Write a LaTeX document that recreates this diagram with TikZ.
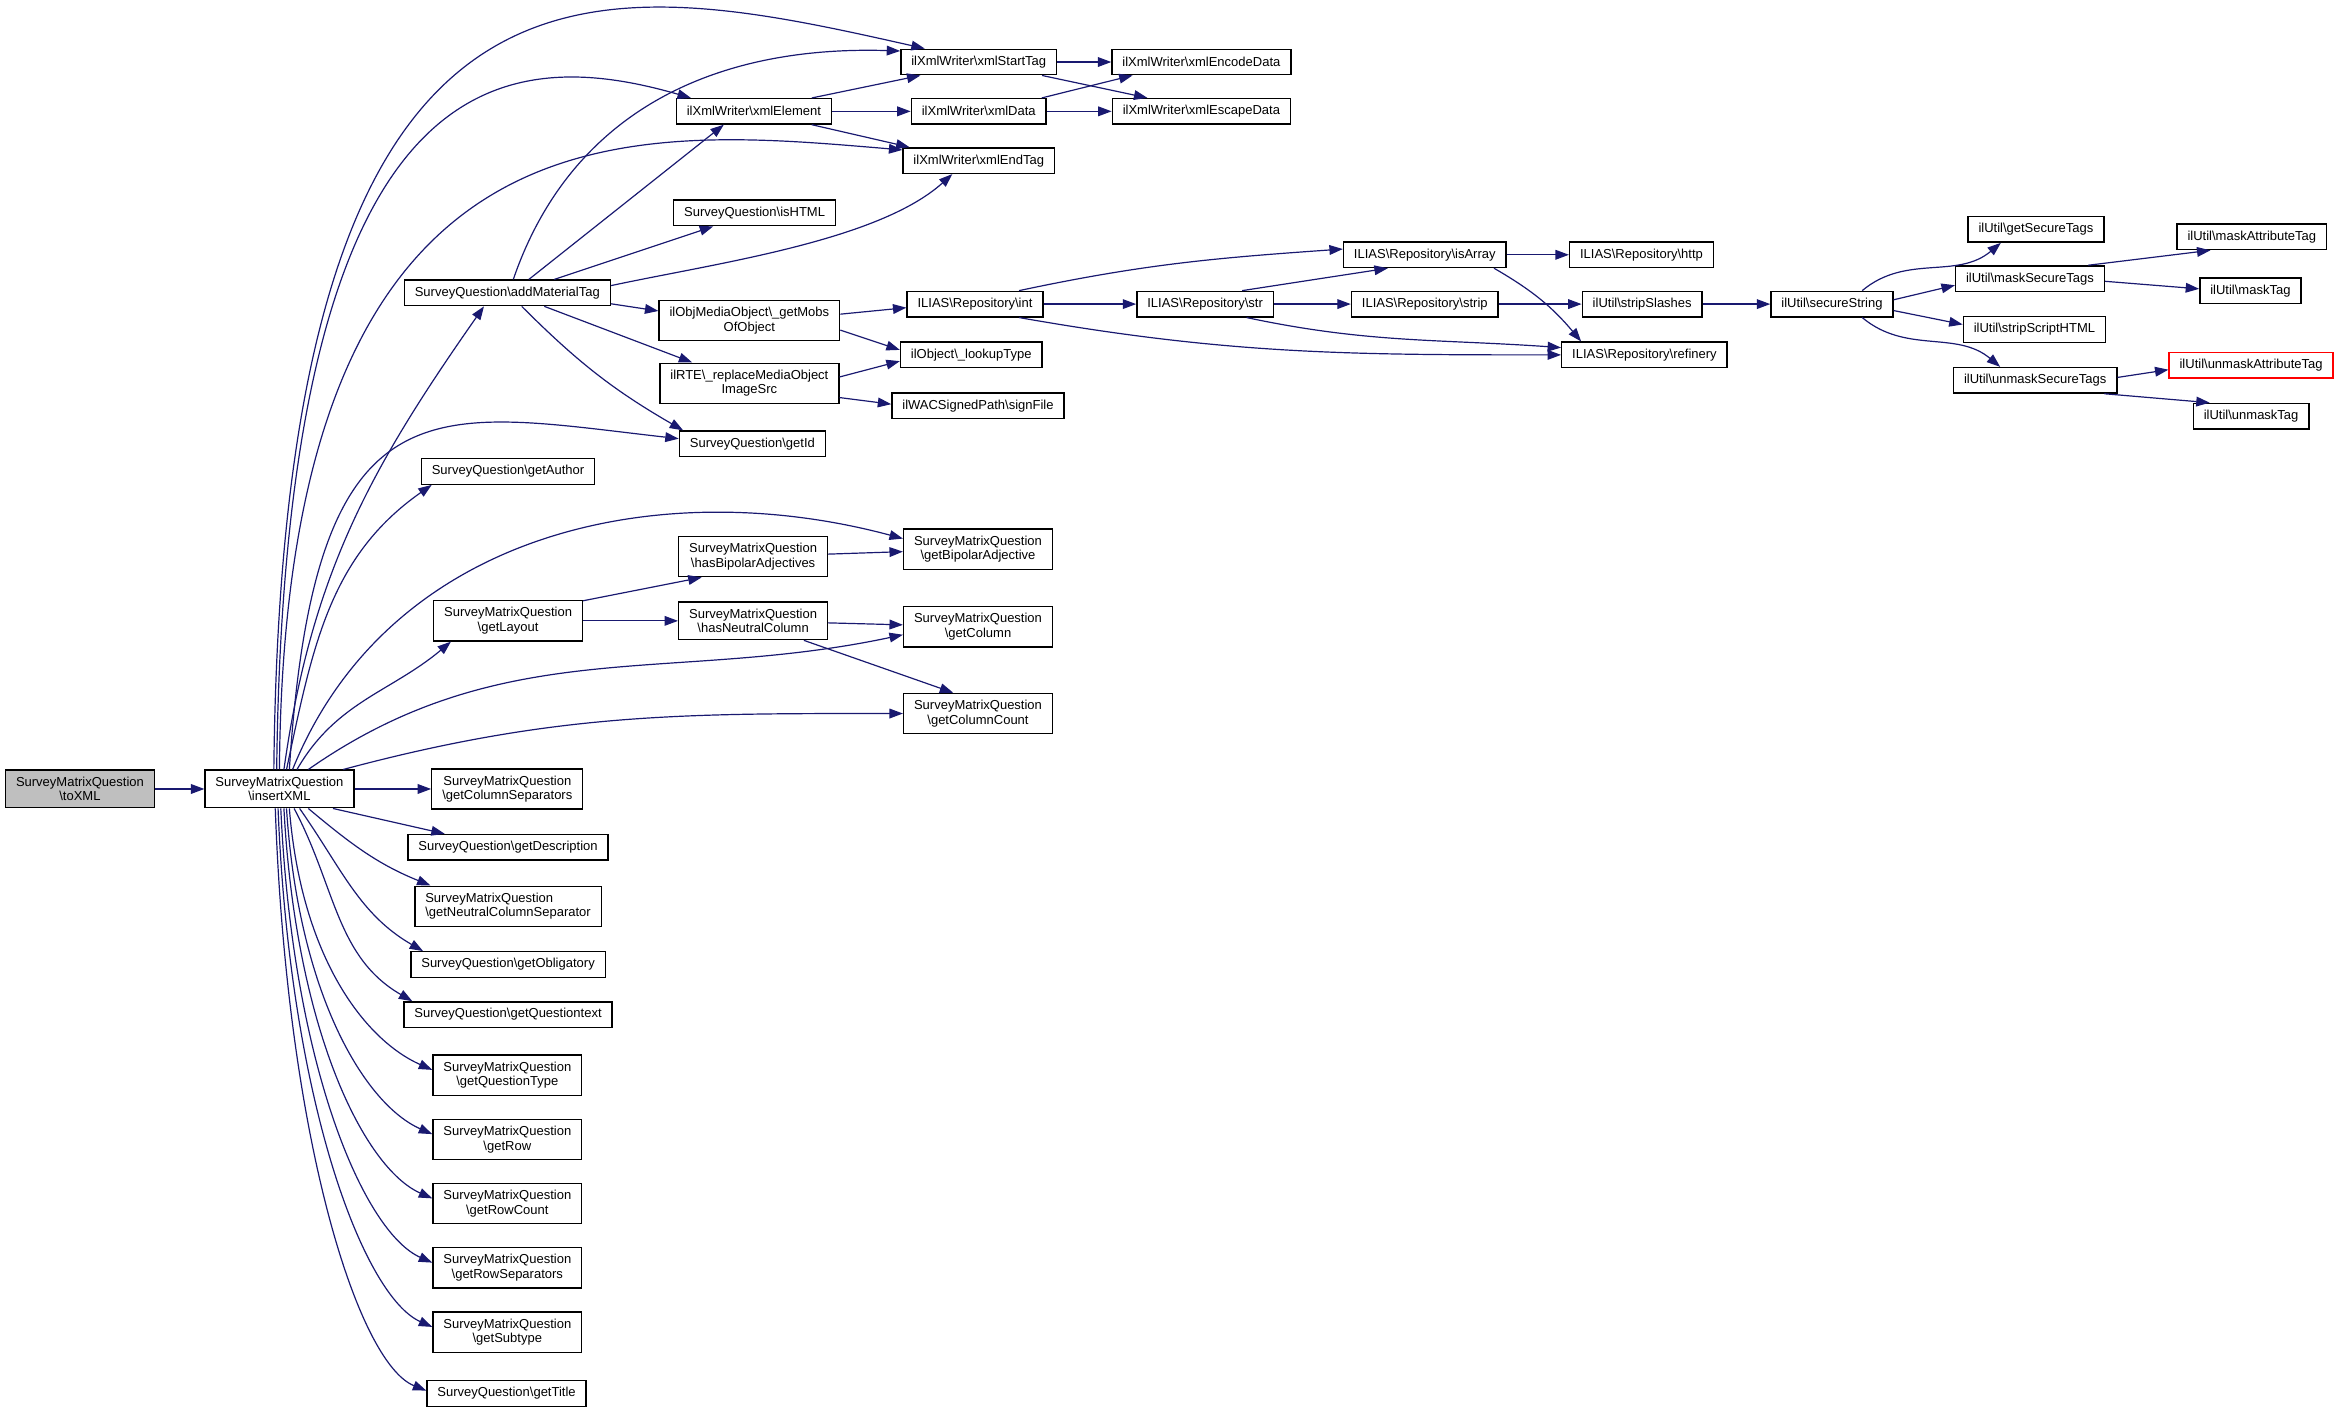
\documentclass[tikz,border=0pt]{standalone}
\usepackage{fontspec}
\setmainfont{Liberation Sans}
\usetikzlibrary{arrows.meta}
\definecolor{callblue}{HTML}{191970}
\definecolor{rootgray}{HTML}{BFBFBF}
\newcommand{\bsl}{\textbackslash}
\tikzset{
	fn/.style={rectangle,draw,line width=0.9pt,inner xsep=7pt,inner ysep=4.5pt,minimum height=17pt,align=center,font=\fontsize{8.7}{9.8}\selectfont},
	gfn/.style={fn,fill=rootgray},
	rfn/.style={fn,draw=red},
	call/.style={draw=callblue,line width=0.8pt,-{Triangle[length=9pt,width=6.5pt]}}
}

\begin{document}
\begin{tikzpicture}[x=1pt,y=1pt]
\useasboundingbox (0,0) rectangle (1568,-945.6);

\node [gfn] (toXML) at (53.5,-528) {SurveyMatrixQuestion\\\bsl toXML};
\node [fn] (insertXML) at (187,-528) {SurveyMatrixQuestion\\\bsl insertXML};

\node [fn] (xmlStartTag) at (655,-41.5) {ilXmlWriter\bsl xmlStartTag};
\node [fn] (xmlEncodeData) at (804,-41.5) {ilXmlWriter\bsl xmlEncodeData};
\node [fn] (xmlElement) at (504.5,-74.5) {ilXmlWriter\bsl xmlElement};
\node [fn] (xmlData) at (655,-74.5) {ilXmlWriter\bsl xmlData};
\node [fn] (xmlEscapeData) at (804,-74.5) {ilXmlWriter\bsl xmlEscapeData};
\node [fn] (xmlEndTag) at (655,-107.5) {ilXmlWriter\bsl xmlEndTag};
\node [fn] (isHTML) at (505,-142.5) {SurveyQuestion\bsl isHTML};
\node [fn] (addMaterialTag) at (339.5,-196) {SurveyQuestion\bsl addMaterialTag};
\node [fn] (getMobsOfObject) at (501.5,-214.5) {ilObjMediaObject\bsl\_getMobs\\OfObject};
\node [fn] (lookupType) at (650,-237.5) {ilObject\bsl\_lookupType};
\node [fn] (replaceMediaObject) at (501.5,-256.5) {ilRTE\bsl\_replaceMediaObject\\ImageSrc};
\node [fn] (signFile) at (654.5,-271.5) {ilWACSignedPath\bsl signFile};
\node [fn] (getId) at (503.5,-297) {SurveyQuestion\bsl getId};

\node [fn] (int) at (652.5,-203.5) {ILIAS\bsl Repository\bsl int};
\node [fn] (str) at (806.5,-203.5) {ILIAS\bsl Repository\bsl str};
\node [fn] (isArray) at (953.5,-170.5) {ILIAS\bsl Repository\bsl isArray};
\node [fn] (http) at (1098.5,-170.5) {ILIAS\bsl Repository\bsl http};
\node [fn] (strip) at (953.5,-203.5) {ILIAS\bsl Repository\bsl strip};
\node [fn] (stripSlashes) at (1099,-203.5) {ilUtil\bsl stripSlashes};
\node [fn] (refinery) at (1100.5,-237.5) {ILIAS\bsl Repository\bsl refinery};
\node [fn] (secureString) at (1226,-203.5) {ilUtil\bsl secureString};
\node [fn] (getSecureTags) at (1362.5,-153.5) {ilUtil\bsl getSecureTags};
\node [fn] (maskSecureTags) at (1358.5,-186.5) {ilUtil\bsl maskSecureTags};
\node [fn] (stripScriptHTML) at (1361.5,-220.5) {ilUtil\bsl stripScriptHTML};
\node [fn] (unmaskSecureTags) at (1362,-254.5) {ilUtil\bsl unmaskSecureTags};
\node [fn] (maskAttributeTag) at (1507,-158.5) {ilUtil\bsl maskAttributeTag};
\node [fn] (maskTag) at (1506,-194.5) {ilUtil\bsl maskTag};
\node [rfn] (unmaskAttributeTag) at (1506.5,-244.5) {ilUtil\bsl unmaskAttributeTag};
\node [fn] (unmaskTag) at (1506.5,-278.5) {ilUtil\bsl unmaskTag};

\node [fn] (getAuthor) at (340,-315.5) {SurveyQuestion\bsl getAuthor};
\node [fn] (getBipolarAdjective) at (654.5,-367.5) {SurveyMatrixQuestion\\\bsl getBipolarAdjective};
\node [fn] (hasBipolarAdjectives) at (504,-372.5) {SurveyMatrixQuestion\\\bsl hasBipolarAdjectives};
\node [fn] (getLayout) at (340,-415.5) {SurveyMatrixQuestion\\\bsl getLayout};
\node [fn] (hasNeutralColumn) at (504,-415.5) {SurveyMatrixQuestion\\\bsl hasNeutralColumn};
\node [fn] (getColumn) at (654.5,-419.5) {SurveyMatrixQuestion\\\bsl getColumn};
\node [fn] (getColumnCount) at (654.5,-477.5) {SurveyMatrixQuestion\\\bsl getColumnCount};

\node [fn] (getColumnSeparators) at (339.5,-528) {SurveyMatrixQuestion\\\bsl getColumnSeparators};
\node [fn] (getDescription) at (340,-567) {SurveyQuestion\bsl getDescription};
\node [fn,align=left] (getNeutralColumnSeparator) at (340,-606.5) {SurveyMatrixQuestion\\\bsl getNeutralColumnSeparator};
\node [fn] (getObligatory) at (340,-645.5) {SurveyQuestion\bsl getObligatory};
\node [fn] (getQuestiontext) at (340,-679) {SurveyQuestion\bsl getQuestiontext};
\node [fn] (getQuestionType) at (339.5,-719.5) {SurveyMatrixQuestion\\\bsl getQuestionType};
\node [fn] (getRow) at (339.5,-762.5) {SurveyMatrixQuestion\\\bsl getRow};
\node [fn] (getRowCount) at (339.5,-805.5) {SurveyMatrixQuestion\\\bsl getRowCount};
\node [fn] (getRowSeparators) at (339.5,-848.5) {SurveyMatrixQuestion\\\bsl getRowSeparators};
\node [fn] (getSubtype) at (339.5,-891.5) {SurveyMatrixQuestion\\\bsl getSubtype};
\node [fn] (getTitle) at (339,-932.5) {SurveyQuestion\bsl getTitle};

% calls of toXML and insertXML
\draw [call] (toXML) -- (insertXML);
\draw [call] (insertXML.106) .. controls +(6,576) and +(-222,50) .. (xmlStartTag.166);
\draw [call] (insertXML.98) .. controls +(5.5,476) and +(-125,36) .. (xmlElement.168);
\draw [call] (insertXML.north) .. controls +(3.5,456) and +(-180,15) .. (xmlEndTag.172);
\draw [call] (insertXML.77) to [out=82,in=-125] (addMaterialTag.-150);
\draw [call] (insertXML.63) .. controls +(17,266) and +(-164,18.5) .. (getId.176);
\draw [call] (insertXML.70) to [out=78,in=-145] (getAuthor.-170);
\draw [call] (insertXML.56) to [out=68,in=165] (getBipolarAdjective.172);
\draw [call] (insertXML.48) to [out=60,in=-140] (getLayout.-160);
\draw [call] (insertXML.34) to [out=35,in=-168] (getColumn.-174);
\draw [call] (insertXML.17) to [out=15,in=180] (getColumnCount.west);
\draw [call] (insertXML.east) -- (getColumnSeparators.west);
\draw [call] (insertXML.-20) -- (getDescription.168);
\draw [call] (insertXML.-34) to [out=-40,in=158] (getNeutralColumnSeparator.165);
\draw [call] (insertXML.-44) to [out=-55,in=150] (getObligatory.171);
\draw [call] (insertXML.-53) to [out=-62,in=150] (getQuestiontext.172);
\draw [call] (insertXML.-63) .. controls +(8,-100) and +(-45,20) .. (getQuestionType.176);
\draw [call] (insertXML.-70) .. controls +(8,-125) and +(-45,20) .. (getRow.176);
\draw [call] (insertXML.-77) .. controls +(8,-150) and +(-45,20) .. (getRowCount.176);
\draw [call] (insertXML.-86) .. controls +(8,-175) and +(-45,20) .. (getRowSeparators.176);
\draw [call] (insertXML.-94) .. controls +(8,-200) and +(-45,20) .. (getSubtype.176);
\draw [call] (insertXML.-102) .. controls +(8,-225) and +(-45,18) .. (getTitle.178);

% calls of addMaterialTag
\draw [call] (addMaterialTag.66) .. controls +(37,108) and +(-130,4) .. (xmlStartTag.172);
\draw [call] (addMaterialTag.32) -- (xmlElement.-156);
\draw [call] (addMaterialTag.16) -- (isHTML.-162);
\draw [call] (addMaterialTag.4) .. controls +(70,15) and +(-50,-45) .. (xmlEndTag.-153);
\draw [call] (addMaterialTag.-6) -- (getMobsOfObject.174);
\draw [call] (addMaterialTag.-20) -- (replaceMediaObject.160);
\draw [call] (addMaterialTag.-43) to [out=-45,in=150] (getId.169);

% xml writer
\draw [call] (xmlElement.13) -- (xmlStartTag.-167);
\draw [call] (xmlElement) -- (xmlData);
\draw [call] (xmlElement.-13) -- (xmlEndTag.169);
\draw [call] (xmlStartTag) -- (xmlEncodeData);
\draw [call] (xmlStartTag.-12) -- (xmlEscapeData.166);
\draw [call] (xmlData.12) -- (xmlEncodeData.-169);
\draw [call] (xmlData) -- (xmlEscapeData);

% media objects
\draw [call] (getMobsOfObject.4) -- (int.-177);
\draw [call] (getMobsOfObject.-6) -- (lookupType.176);
\draw [call] (replaceMediaObject.4) -- (lookupType.-175);
\draw [call] (replaceMediaObject.-9) -- (signFile.179);

% repository
\draw [call] (int.17) to [out=12,in=184] (isArray.176);
\draw [call] (int) -- (str);
\draw [call] (int.-17) to [out=-10,in=180] (refinery.west);
\draw [call] (str.20) -- (isArray.-160);
\draw [call] (str) -- (strip);
\draw [call] (str.-18) to [out=-12,in=176] (refinery.175);
\draw [call] (isArray) -- (http);
\draw [call] (isArray.-11) to [out=-30,in=130] (refinery.168);
\draw [call] (strip) -- (stripSlashes);
\draw [call] (stripSlashes) -- (secureString);

% secure string
\draw [call] (secureString.24) to [out=40,in=-140] (getSecureTags.-159);
\draw [call] (secureString.4) -- (maskSecureTags.-175);
\draw [call] (secureString.-6) -- (stripScriptHTML.176);
\draw [call] (secureString.-24) to [out=-40,in=140] (unmaskSecureTags.159);
\draw [call] (maskSecureTags.13) -- (maskAttributeTag.-162);
\draw [call] (maskSecureTags.-2) -- (maskTag.178);
\draw [call] (unmaskSecureTags.2) -- (unmaskAttributeTag.-177);
\draw [call] (unmaskSecureTags.-11) -- (unmaskTag.162);

% layout
\draw [call] (getLayout.15) -- (hasBipolarAdjectives.-158);
\draw [call] (getLayout) -- (hasNeutralColumn);
\draw [call] (hasBipolarAdjectives) -- (getBipolarAdjective);
\draw [call] (hasNeutralColumn) -- (getColumn);
\draw [call] (hasNeutralColumn.-21) -- (getColumnCount.140);
\end{tikzpicture}
\end{document}
